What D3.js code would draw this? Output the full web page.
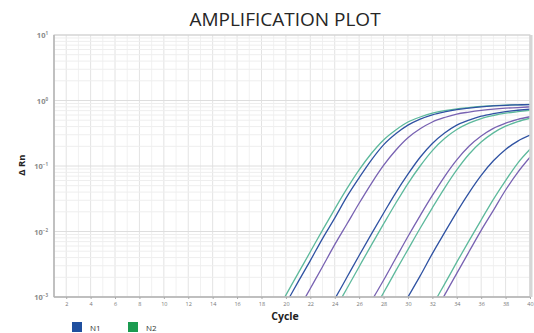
<!DOCTYPE html>
<html>
<head>
<meta charset="utf-8">
<script src="https://cdn.jsdelivr.net/npm/d3@7"></script>
<style>
  body { margin: 0; background: #fff; }
  svg { display: block; font-family: "Open Sans", sans-serif; }
</style>
</head>
<body>
<div id="chart"></div>
<script>
// x ticks (cycle) and y decades
const cycleTicks = [2, 4, 6, 8, 10, 12, 14, 16, 18, 20, 22, 24, 26, 28, 30, 32, 34, 36, 38, 40];
const decadeExps = [1, 0, -1, -2, -3];
const legendNames = ["N1", "N2"];

// delta Rn, one value per cycle starting at `from`
const blue1   = { from: 19, rn: [3.7e-4, 7.9e-4, 1.7e-3, 3.6e-3, 7.8e-3, 1.6e-2, 3.4e-2, 6.6e-2, 0.123, 0.21, 0.31, 0.42, 0.52, 0.605, 0.67, 0.726, 0.765, 0.80, 0.826, 0.845, 0.857, 0.867] };
const green1  = { from: 18, rn: [2.3e-4, 5.0e-4, 1.07e-3, 2.3e-3, 4.9e-3, 1.05e-2, 2.2e-2, 4.5e-2, 8.7e-2, 0.155, 0.25, 0.355, 0.47, 0.56, 0.64, 0.70, 0.745, 0.78, 0.815, 0.834, 0.85, 0.86, 0.87] };
const purple1 = { from: 20, rn: [3.0e-4, 6.3e-4, 1.35e-3, 2.9e-3, 6.3e-3, 1.3e-2, 2.7e-2, 5.4e-2, 0.102, 0.174, 0.27, 0.37, 0.47, 0.55, 0.62, 0.665, 0.705, 0.74, 0.765, 0.78, 0.80] };
const blue2   = { from: 22, rn: [2.0e-4, 4.4e-4, 9.3e-4, 2.0e-3, 4.3e-3, 9.1e-3, 1.9e-2, 3.9e-2, 7.5e-2, 0.136, 0.22, 0.318, 0.42, 0.50, 0.575, 0.63, 0.676, 0.71, 0.74] };
const green2  = { from: 23, rn: [3.0e-4, 6.3e-4, 1.35e-3, 2.9e-3, 6.2e-3, 1.3e-2, 2.7e-2, 5.4e-2, 0.10, 0.172, 0.262, 0.36, 0.45, 0.53, 0.59, 0.64, 0.676, 0.71] };
const purple3 = { from: 25, rn: [1.9e-4, 4.0e-4, 8.6e-4, 1.8e-3, 3.9e-3, 8.4e-3, 1.75e-2, 3.55e-2, 6.9e-2, 0.124, 0.20, 0.287, 0.376, 0.45, 0.516, 0.565] };
const green3  = { from: 26, rn: [2.5e-4, 5.4e-4, 1.16e-3, 2.5e-3, 5.3e-3, 1.12e-2, 2.3e-2, 4.6e-2, 8.7e-2, 0.151, 0.232, 0.32, 0.405, 0.476, 0.536] };
const blue4   = { from: 28, rn: [2.2e-4, 4.7e-4, 1.0e-3, 2.1e-3, 4.6e-3, 9.6e-3, 1.98e-2, 3.9e-2, 7.2e-2, 0.12, 0.179, 0.24, 0.296] };
const green5  = { from: 30, rn: [1.6e-4, 3.4e-4, 7.4e-4, 1.57e-3, 3.4e-3, 7.2e-3, 1.5e-2, 3.1e-2, 6.0e-2, 0.111, 0.18] };
const purple5 = { from: 31, rn: [2.3e-4, 5.0e-4, 1.07e-3, 2.3e-3, 4.9e-3, 1.04e-2, 2.1e-2, 4.3e-2, 8.0e-2, 0.136] };

const BLUE = "#2f52a2", GREEN = "#5db99c", PURPLE = "#7862b2";
const curves = [
  [purple5, PURPLE], [green5, GREEN], [blue4, BLUE],
  [green3, GREEN], [purple3, PURPLE], [green2, GREEN], [blue2, BLUE],
  [purple1, PURPLE], [green1, GREEN], [blue1, BLUE]
];

const width = 534, height = 333;
const margin = { top: 35, right: 4, bottom: 36, left: 54 };

const svg = d3.select('#chart')
  .append('svg')
  .attr('width', width)
  .attr('height', height);

const x = d3.scaleLinear().domain([1, 40]).range([margin.left, width - margin.right]);
const y = d3.scaleLog().domain([1e-3, 10]).range([height - margin.bottom, margin.top]);

// title
svg.append('text')
  .attr('x', 285).attr('y', 26)
  .attr('text-anchor', 'middle')
  .attr('font-size', 19)
  .attr('fill', '#262626')
  .text('AMPLIFICATION PLOT');

// grid
const grid = svg.append('g');
grid.selectAll('line.vc')
  .data(d3.range(1, 41))
  .enter().append('line')
  .attr('x1', d => x(d)).attr('x2', d => x(d))
  .attr('y1', y(10)).attr('y2', y(1e-3))
  .attr('stroke', d => d % 2 === 0 ? '#e3e3e3' : '#f1f1f1')
  .attr('stroke-width', 1);

const minorVals = [];
decadeExps.slice(1).forEach(e => {
  for (let m = 2; m <= 9; m++) minorVals.push(m * Math.pow(10, e));
});
grid.selectAll('line.hm')
  .data(minorVals)
  .enter().append('line')
  .attr('x1', x(1)).attr('x2', x(40))
  .attr('y1', d => y(d)).attr('y2', d => y(d))
  .attr('stroke', '#eeeeee');
grid.selectAll('line.hd')
  .data(decadeExps)
  .enter().append('line')
  .attr('x1', x(1)).attr('x2', x(40))
  .attr('y1', d => y(Math.pow(10, d))).attr('y2', d => y(Math.pow(10, d)))
  .attr('stroke', '#dedede');

// curves
svg.append('clipPath').attr('id', 'plotclip')
  .append('rect')
  .attr('x', x(1)).attr('y', y(10))
  .attr('width', x(40) - x(1)).attr('height', y(1e-3) - y(10));

const line = d3.line()
  .x(d => x(d[0]))
  .y(d => y(d[1]))
  .curve(d3.curveMonotoneX);

svg.append('g').attr('clip-path', 'url(#plotclip)')
  .selectAll('path')
  .data(curves)
  .enter().append('path')
  .attr('fill', 'none')
  .attr('stroke', d => d[1])
  .attr('stroke-width', 1.3)
  .attr('d', d => line(d[0].rn.map((v, i) => [d[0].from + i, v])));

// frame
svg.append('rect')
  .attr('x', x(1)).attr('y', y(10))
  .attr('width', x(40) - x(1)).attr('height', y(1e-3) - y(10))
  .attr('fill', 'none').attr('stroke', '#cfcfcf');
svg.append('line')
  .attr('x1', x(40) + 1).attr('x2', x(40) + 1)
  .attr('y1', y(10)).attr('y2', y(1e-3))
  .attr('stroke', '#d6d6d6').attr('stroke-width', 3);
svg.append('line')
  .attr('x1', x(1)).attr('x2', x(1))
  .attr('y1', y(10)).attr('y2', y(1e-3))
  .attr('stroke', '#b5b5b5').attr('stroke-width', 1.5);
svg.append('line')
  .attr('x1', x(1)).attr('x2', x(40))
  .attr('y1', y(1e-3)).attr('y2', y(1e-3))
  .attr('stroke', '#b5b5b5').attr('stroke-width', 1.5);

// x axis
const xAxis = svg.append('g')
  .attr('transform', `translate(0,${y(1e-3)})`)
  .call(d3.axisBottom(x).tickValues(cycleTicks).tickSize(2).tickPadding(3));
xAxis.select('.domain').remove();
xAxis.selectAll('line').attr('stroke', '#aaa');
xAxis.selectAll('text').attr('font-size', 5.5).attr('fill', '#777').attr('font-family', '"Open Sans", sans-serif');

// y axis labels
const yLab = svg.append('g').selectAll('text')
  .data(decadeExps)
  .enter().append('text')
  .attr('x', 48)
  .attr('y', d => y(Math.pow(10, d)) + 3)
  .attr('text-anchor', 'end')
  .attr('font-size', 7.5)
  .attr('font-weight', 'bold')
  .attr('fill', '#8a8a8a');
yLab.append('tspan').text('10');
yLab.append('tspan')
  .attr('dy', -3)
  .attr('font-size', 4.5)
  .text(d => d < 0 ? '\u2212' + (-d) : String(d));

// axis titles
svg.append('text')
  .attr('x', 285).attr('y', 320)
  .attr('text-anchor', 'middle')
  .attr('font-size', 10.5)
  .attr('font-weight', 'bold')
  .attr('fill', '#222')
  .text('Cycle');
svg.append('text')
  .attr('transform', 'translate(25,165) rotate(-90)')
  .attr('text-anchor', 'middle')
  .attr('font-size', 9.5)
  .attr('font-weight', 'bold')
  .attr('fill', '#222')
  .text('\u0394 Rn');

// legend
const legend = svg.append('g').selectAll('g')
  .data(legendNames)
  .enter().append('g')
  .attr('transform', (d, i) => `translate(${72 + i * 56},322)`);
legend.append('rect')
  .attr('width', 10).attr('height', 10)
  .attr('fill', (d, i) => i === 0 ? '#1f4f9f' : '#1b9b50');
legend.append('text')
  .attr('x', 18).attr('y', 8.5)
  .attr('font-size', 8)
  .attr('fill', '#333')
  .text(d => d);
</script>
</body>
</html>
